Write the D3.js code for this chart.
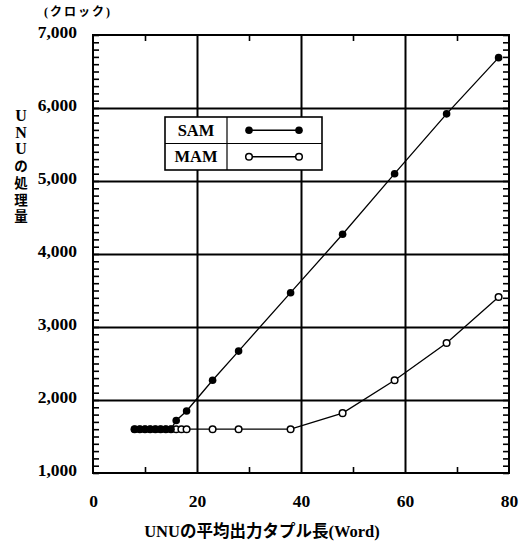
<!DOCTYPE html>
<html><head><meta charset="utf-8">
<script src="https://cdn.jsdelivr.net/npm/d3@7"></script>
<style>
body{margin:0;background:#fff;}
</style></head>
<body>
<svg id="c" width="528" height="551"></svg>
<script>
const seriesNames = ["SAM", "MAM"];
const samX = [8, 9, 10, 11, 12, 13, 14, 15, 16, 18, 23, 28, 38, 48, 58, 68, 78];
const samY = [1600, 1600, 1600, 1600, 1600, 1600, 1600, 1600, 1720, 1850, 2270, 2670, 3470, 4270, 5100, 5920, 6690];
const mamX = [8, 9, 10, 11, 12, 13, 14, 15, 16, 17, 18, 23, 28, 38, 48, 58, 68, 78];
const mamY = [1600, 1600, 1600, 1600, 1600, 1600, 1600, 1600, 1600, 1600, 1600, 1600, 1600, 1600, 1820, 2270, 2780, 3410];
const xTicks = [0, 20, 40, 60, 80];
const yTicks = [1000, 2000, 3000, 4000, 5000, 6000, 7000];
const yUnit = "(クロック)";
const yTitle = ["U", "N", "U", "の", "処", "理", "量"];
const xTitle = "UNUの平均出力タプル長(Word)";

const FONT = "'Liberation Serif', 'Times New Roman', 'DejaVu Serif', 'Noto Sans CJK JP', serif";
const L = 93, R = 509, T = 35, B = 473;
const x = d3.scaleLinear().domain([0, 80]).range([L, R]);
const y = d3.scaleLinear().domain([1000, 7000]).range([B, T]);
const svg = d3.select("#c");

const yMinor = d3.range(1000, 7001, 100);
const xMinor = [10, 30, 50, 70];
function styleAx(g, w) { g.select(".domain").remove(); g.selectAll("line").attr("stroke", "#000").attr("stroke-width", w); g.selectAll("text").remove(); }
svg.append("g").attr("transform", `translate(${L},0)`).call(d3.axisLeft(y).tickValues(yMinor).tickSize(-6).tickFormat("")).call(g => styleAx(g, 1.6));
svg.append("g").attr("transform", `translate(${R},0)`).call(d3.axisRight(y).tickValues(yMinor).tickSize(-6).tickFormat("")).call(g => styleAx(g, 1.6));
svg.append("g").attr("transform", `translate(0,${B})`).call(d3.axisBottom(x).tickValues(xMinor).tickSize(-6).tickFormat("")).call(g => styleAx(g, 1.6));
svg.append("g").attr("transform", `translate(0,${T})`).call(d3.axisTop(x).tickValues(xMinor).tickSize(-6).tickFormat("")).call(g => styleAx(g, 1.6));

svg.append("g").attr("transform", `translate(${L},0)`).call(d3.axisLeft(y).tickValues(yTicks.slice(1, -1)).tickSize(-(R - L)).tickFormat("")).call(g => styleAx(g, 2));
svg.append("g").attr("transform", `translate(0,${B})`).call(d3.axisBottom(x).tickValues(xTicks.slice(1, -1)).tickSize(-(B - T)).tickFormat("")).call(g => styleAx(g, 2));

svg.append("rect").attr("x", L).attr("y", T).attr("width", R - L).attr("height", B - T).attr("fill", "none").attr("stroke", "#000").attr("stroke-width", 2);

function tstyle(sel, size) { sel.style("font-family", FONT).style("font-weight", "bold").style("font-size", size + "px").attr("fill", "#000"); }

const ya = svg.append("g").attr("transform", `translate(${L},0)`).call(d3.axisLeft(y).tickValues(yTicks).tickSize(0).tickPadding(16).tickFormat(d3.format(",")));
ya.select(".domain").remove();
ya.selectAll("text").attr("dy", "0.14em").call(s => tstyle(s, 17.5));
const xa = svg.append("g").attr("transform", `translate(0,${B})`).call(d3.axisBottom(x).tickValues(xTicks).tickSize(0).tickPadding(22));
xa.select(".domain").remove();
xa.selectAll("text").call(s => tstyle(s, 17.5));

svg.append("text").attr("x", 44).attr("y", 16).attr("letter-spacing", 2).text(yUnit).call(s => tstyle(s, 12));
svg.append("g").selectAll("text").data(yTitle).join("text")
  .attr("x", 21).attr("y", (d, i) => 121 + i * 16.7).attr("text-anchor", "middle").text(d => d)
  .each(function (d) { tstyle(d3.select(this), /[A-Z]/.test(d) ? 16 : 13.5); });
svg.append("text").attr("x", 262).attr("y", 537).attr("text-anchor", "middle").text(xTitle).call(s => tstyle(s, 16.5));

const mam = mamX.map((v, i) => [v, mamY[i]]);
const sam = samX.map((v, i) => [v, samY[i]]);
const line = d3.line().x(d => x(d[0])).y(d => y(d[1]));
svg.append("path").datum(mam).attr("d", line).attr("fill", "none").attr("stroke", "#000").attr("stroke-width", 1.3);
svg.append("path").datum(sam).attr("d", line).attr("fill", "none").attr("stroke", "#000").attr("stroke-width", 1.3);
svg.append("g").selectAll("circle").data(mam).join("circle").attr("cx", d => x(d[0])).attr("cy", d => y(d[1])).attr("r", 3.3)
  .attr("fill", "#fff").attr("stroke", "#000").attr("stroke-width", 1.5);
svg.append("g").selectAll("circle").data(sam).join("circle").attr("cx", d => x(d[0])).attr("cy", d => y(d[1])).attr("r", 3.8).attr("fill", "#000");

const lg = svg.append("g");
const lx0 = 165, lx1 = 322, ly0 = 117, ly1 = 170, ldiv = 227;
const rowH = (ly1 - ly0) / 2;
lg.append("rect").attr("x", lx0).attr("y", ly0).attr("width", lx1 - lx0).attr("height", ly1 - ly0).attr("fill", "#fff").attr("stroke", "#000").attr("stroke-width", 1.6);
lg.append("line").attr("x1", lx0).attr("x2", lx1).attr("y1", ly0 + rowH).attr("y2", ly0 + rowH).attr("stroke", "#000").attr("stroke-width", 1.2);
lg.append("line").attr("x1", ldiv).attr("x2", ldiv).attr("y1", ly0).attr("y2", ly1).attr("stroke", "#000").attr("stroke-width", 1.2);
seriesNames.forEach((n, i) => {
  const cy = ly0 + rowH * (i + 0.5);
  lg.append("text").attr("x", (lx0 + ldiv) / 2).attr("y", cy + 5.5).attr("text-anchor", "middle").text(n).call(s => tstyle(s, 16.5));
  lg.append("line").attr("x1", 249).attr("x2", 299).attr("y1", cy).attr("y2", cy).attr("stroke", "#000").attr("stroke-width", 1.3);
  [249, 299].forEach(px => {
    const c = lg.append("circle").attr("cx", px).attr("cy", cy);
    if (i === 0) c.attr("r", 3.8).attr("fill", "#000");
    else c.attr("r", 3.3).attr("fill", "#fff").attr("stroke", "#000").attr("stroke-width", 1.5);
  });
});
</script>
</body></html>
